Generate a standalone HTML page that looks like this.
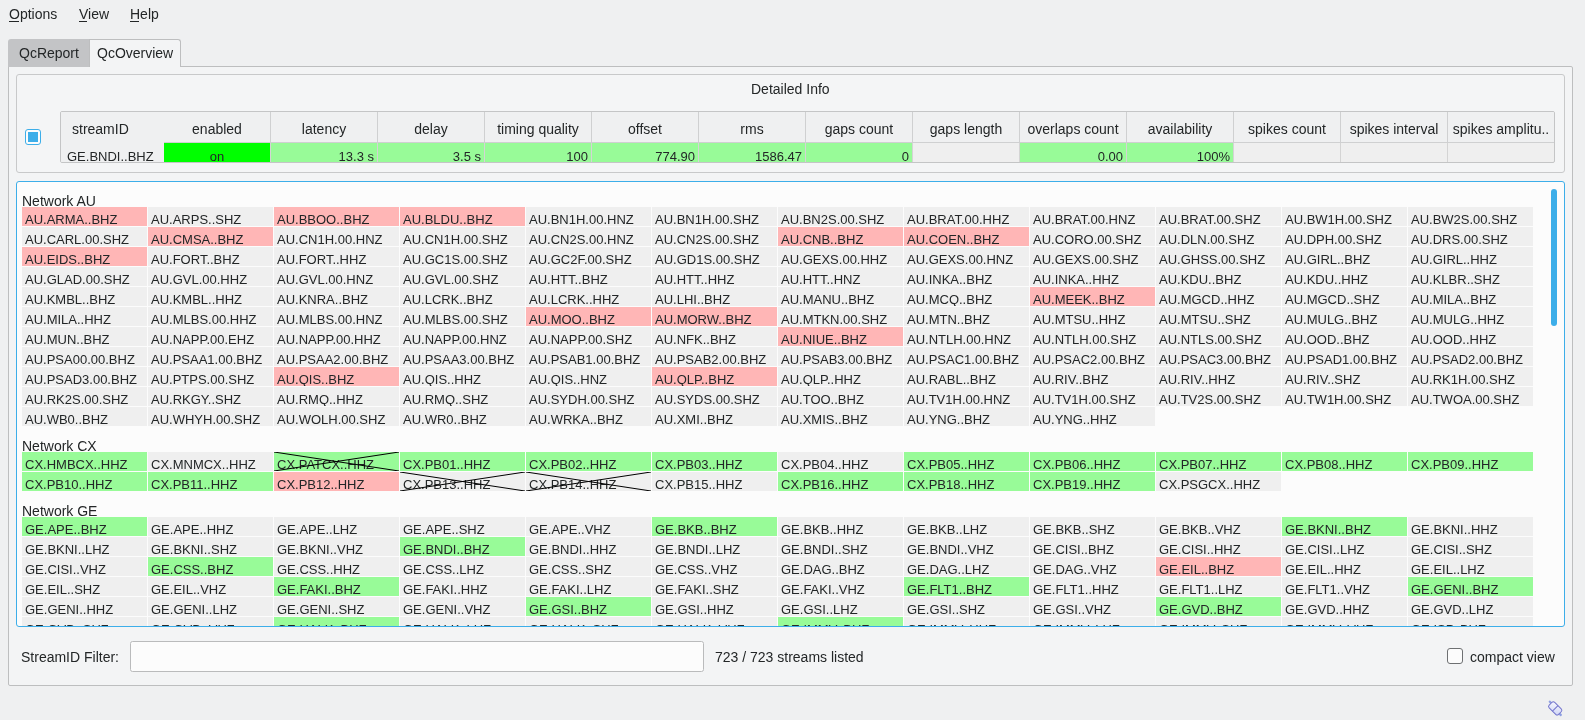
<!DOCTYPE html>
<html><head><meta charset="utf-8">
<style>
*{box-sizing:border-box}
html,body{margin:0;padding:0}
body{width:1585px;height:720px;overflow:hidden;background:#eff0f1;font-family:"Liberation Sans",sans-serif;font-size:14px;color:#232627;position:relative}
.a{position:absolute;white-space:nowrap;line-height:16px}
.ul{position:absolute;height:1px;background:#232627}
#tabr{position:absolute;left:8px;top:39px;width:81px;height:28px;background:#c3c4c6;border-radius:3px 0 0 0}
#tabo{position:absolute;left:89px;top:39px;width:92px;height:28px;background:#f3f4f5;border:1px solid #bdbebf;border-bottom:none;border-radius:0 3px 0 0;z-index:2}
#pane{position:absolute;left:8px;top:66px;width:1565px;height:620px;background:#f3f4f5;border:1px solid #bdbebf;border-radius:0 2px 2px 2px}
#grp{position:absolute;left:16px;top:74px;width:1549px;height:99px;border:1px solid #c8c9ca;border-radius:3px;background:#f4f5f6}
#chk{position:absolute;left:25px;top:129px;width:16px;height:16px;border:1.5px solid #3daee9;border-radius:3px;background:#fcfcfc}
#chk i{position:absolute;left:1.5px;top:1.5px;width:10px;height:10px;background:#3daee9}
#tbl{position:absolute;left:60px;top:111px;width:1495px;height:52px;border:1px solid #c4c5c6;border-radius:2px;overflow:hidden;background:#efefef}
.th{position:absolute;top:0;height:31px;background:#eff0f1;border-right:1px solid #cfd0d1;border-bottom:1px solid #cfd0d1;text-align:center;line-height:16px;padding-top:9px;font-size:14px;color:#232627}
.th.nb{border-right:none;border-bottom:none;height:32px}
.td{position:absolute;top:31px;height:19px;border-right:1px solid #d4d4d4;line-height:16px;padding-top:6px;font-size:13px;color:#232627;padding-left:6px;padding-right:3px;white-space:nowrap;overflow:hidden}
.td.g{background:#98fb98}
.td.on{background:#00ff00}
.td.on span{position:relative;top:1px}
.td.r{text-align:right}
.td.c{text-align:center}
.td.n{border-right:none;background:#eff0f1}
#vp{position:absolute;left:16px;top:181px;width:1549px;height:446px;border:1px solid #3daee9;border-radius:3px;background:#fcfcfc;overflow:hidden}
.nl{position:absolute;left:5px;height:25px;line-height:16px;padding-top:11px;font-size:14px;white-space:nowrap;color:#232627}
.c{position:absolute;width:125px;height:19px;background:#efefef;font-size:13px;line-height:19px;padding-left:3px;padding-top:3px;white-space:nowrap;overflow:hidden;color:#232627}
.c.r{background:#ffb6b6}
.c.g{background:#98fb98}
.xx{position:absolute;left:0;top:0}
#sb{position:absolute;left:1534px;top:7px;width:6px;height:137px;border-radius:3px;background:#3daee9}
#inp{position:absolute;left:130px;top:641px;width:574px;height:31px;border:1px solid #babbbc;border-radius:2.5px;background:#fcfcfc}
#chk2{position:absolute;left:1447px;top:648px;width:16px;height:16px;border:1.5px solid #6e7072;border-radius:3px;background:#fcfcfc}
#root{position:absolute;left:0;top:0;width:1585px;height:720px;will-change:transform}
</style></head><body><div id="root">
<div class="a" style="left:9px;top:6px">Options</div><div class="ul" style="left:9px;top:21px;width:10px"></div>
<div class="a" style="left:79px;top:6px">View</div><div class="ul" style="left:79px;top:21px;width:8px"></div>
<div class="a" style="left:130px;top:6px">Help</div><div class="ul" style="left:130px;top:21px;width:9px"></div>

<div id="pane"></div>
<div id="tabr"></div>
<div id="tabo"></div>
<div class="a" style="left:19px;top:45px;z-index:3">QcReport</div>
<div class="a" style="left:97px;top:45px;z-index:3">QcOverview</div>

<div id="grp"></div>
<div class="a" style="left:751px;top:81px">Detailed Info</div>
<div id="chk"><i></i></div>
<div id="tbl">
<div class="th nb" style="left:0px;width:103px"><span style="position:absolute;left:11px">streamID</span></div>
<div class="th" style="left:103px;width:107px">enabled</div>
<div class="th" style="left:210px;width:107px">latency</div>
<div class="th" style="left:317px;width:107px">delay</div>
<div class="th" style="left:424px;width:107px">timing quality</div>
<div class="th" style="left:531px;width:107px">offset</div>
<div class="th" style="left:638px;width:107px">rms</div>
<div class="th" style="left:745px;width:107px">gaps count</div>
<div class="th" style="left:852px;width:107px">gaps length</div>
<div class="th" style="left:959px;width:107px">overlaps count</div>
<div class="th" style="left:1066px;width:107px">availability</div>
<div class="th" style="left:1173px;width:107px">spikes count</div>
<div class="th" style="left:1280px;width:107px">spikes interval</div>
<div class="th" style="left:1387px;width:107px">spikes amplitu..</div>
<div class="td n l" style="left:0px;width:103px">GE.BNDI..BHZ</div>
<div class="td on c" style="left:103px;width:107px"><span>on</span></div>
<div class="td g r" style="left:210px;width:107px">13.3 s</div>
<div class="td g r" style="left:317px;width:107px">3.5 s</div>
<div class="td g r" style="left:424px;width:107px">100</div>
<div class="td g r" style="left:531px;width:107px">774.90</div>
<div class="td g r" style="left:638px;width:107px">1586.47</div>
<div class="td g r" style="left:745px;width:107px">0</div>
<div class="td e r" style="left:852px;width:107px"></div>
<div class="td g r" style="left:959px;width:107px">0.00</div>
<div class="td g r" style="left:1066px;width:107px">100%</div>
<div class="td e r" style="left:1173px;width:107px"></div>
<div class="td e r" style="left:1280px;width:107px"></div>
<div class="td e r" style="left:1387px;width:107px"></div>
</div>

<div id="vp">
<div class="nl" style="top:0px">Network AU</div>
<div class="nl" style="top:245px">Network CX</div>
<div class="nl" style="top:310px">Network GE</div>
<div class="c r" style="left:5px;top:25px">AU.ARMA..BHZ</div>
<div class="c" style="left:131px;top:25px">AU.ARPS..SHZ</div>
<div class="c r" style="left:257px;top:25px">AU.BBOO..BHZ</div>
<div class="c r" style="left:383px;top:25px">AU.BLDU..BHZ</div>
<div class="c" style="left:509px;top:25px">AU.BN1H.00.HNZ</div>
<div class="c" style="left:635px;top:25px">AU.BN1H.00.SHZ</div>
<div class="c" style="left:761px;top:25px">AU.BN2S.00.SHZ</div>
<div class="c" style="left:887px;top:25px">AU.BRAT.00.HHZ</div>
<div class="c" style="left:1013px;top:25px">AU.BRAT.00.HNZ</div>
<div class="c" style="left:1139px;top:25px">AU.BRAT.00.SHZ</div>
<div class="c" style="left:1265px;top:25px">AU.BW1H.00.SHZ</div>
<div class="c" style="left:1391px;top:25px">AU.BW2S.00.SHZ</div>
<div class="c" style="left:5px;top:45px">AU.CARL.00.SHZ</div>
<div class="c r" style="left:131px;top:45px">AU.CMSA..BHZ</div>
<div class="c" style="left:257px;top:45px">AU.CN1H.00.HNZ</div>
<div class="c" style="left:383px;top:45px">AU.CN1H.00.SHZ</div>
<div class="c" style="left:509px;top:45px">AU.CN2S.00.HNZ</div>
<div class="c" style="left:635px;top:45px">AU.CN2S.00.SHZ</div>
<div class="c r" style="left:761px;top:45px">AU.CNB..BHZ</div>
<div class="c r" style="left:887px;top:45px">AU.COEN..BHZ</div>
<div class="c" style="left:1013px;top:45px">AU.CORO.00.SHZ</div>
<div class="c" style="left:1139px;top:45px">AU.DLN.00.SHZ</div>
<div class="c" style="left:1265px;top:45px">AU.DPH.00.SHZ</div>
<div class="c" style="left:1391px;top:45px">AU.DRS.00.SHZ</div>
<div class="c r" style="left:5px;top:65px">AU.EIDS..BHZ</div>
<div class="c" style="left:131px;top:65px">AU.FORT..BHZ</div>
<div class="c" style="left:257px;top:65px">AU.FORT..HHZ</div>
<div class="c" style="left:383px;top:65px">AU.GC1S.00.SHZ</div>
<div class="c" style="left:509px;top:65px">AU.GC2F.00.SHZ</div>
<div class="c" style="left:635px;top:65px">AU.GD1S.00.SHZ</div>
<div class="c" style="left:761px;top:65px">AU.GEXS.00.HHZ</div>
<div class="c" style="left:887px;top:65px">AU.GEXS.00.HNZ</div>
<div class="c" style="left:1013px;top:65px">AU.GEXS.00.SHZ</div>
<div class="c" style="left:1139px;top:65px">AU.GHSS.00.SHZ</div>
<div class="c" style="left:1265px;top:65px">AU.GIRL..BHZ</div>
<div class="c" style="left:1391px;top:65px">AU.GIRL..HHZ</div>
<div class="c" style="left:5px;top:85px">AU.GLAD.00.SHZ</div>
<div class="c" style="left:131px;top:85px">AU.GVL.00.HHZ</div>
<div class="c" style="left:257px;top:85px">AU.GVL.00.HNZ</div>
<div class="c" style="left:383px;top:85px">AU.GVL.00.SHZ</div>
<div class="c" style="left:509px;top:85px">AU.HTT..BHZ</div>
<div class="c" style="left:635px;top:85px">AU.HTT..HHZ</div>
<div class="c" style="left:761px;top:85px">AU.HTT..HNZ</div>
<div class="c" style="left:887px;top:85px">AU.INKA..BHZ</div>
<div class="c" style="left:1013px;top:85px">AU.INKA..HHZ</div>
<div class="c" style="left:1139px;top:85px">AU.KDU..BHZ</div>
<div class="c" style="left:1265px;top:85px">AU.KDU..HHZ</div>
<div class="c" style="left:1391px;top:85px">AU.KLBR..SHZ</div>
<div class="c" style="left:5px;top:105px">AU.KMBL..BHZ</div>
<div class="c" style="left:131px;top:105px">AU.KMBL..HHZ</div>
<div class="c" style="left:257px;top:105px">AU.KNRA..BHZ</div>
<div class="c" style="left:383px;top:105px">AU.LCRK..BHZ</div>
<div class="c" style="left:509px;top:105px">AU.LCRK..HHZ</div>
<div class="c" style="left:635px;top:105px">AU.LHI..BHZ</div>
<div class="c" style="left:761px;top:105px">AU.MANU..BHZ</div>
<div class="c" style="left:887px;top:105px">AU.MCQ..BHZ</div>
<div class="c r" style="left:1013px;top:105px">AU.MEEK..BHZ</div>
<div class="c" style="left:1139px;top:105px">AU.MGCD..HHZ</div>
<div class="c" style="left:1265px;top:105px">AU.MGCD..SHZ</div>
<div class="c" style="left:1391px;top:105px">AU.MILA..BHZ</div>
<div class="c" style="left:5px;top:125px">AU.MILA..HHZ</div>
<div class="c" style="left:131px;top:125px">AU.MLBS.00.HHZ</div>
<div class="c" style="left:257px;top:125px">AU.MLBS.00.HNZ</div>
<div class="c" style="left:383px;top:125px">AU.MLBS.00.SHZ</div>
<div class="c r" style="left:509px;top:125px">AU.MOO..BHZ</div>
<div class="c r" style="left:635px;top:125px">AU.MORW..BHZ</div>
<div class="c" style="left:761px;top:125px">AU.MTKN.00.SHZ</div>
<div class="c" style="left:887px;top:125px">AU.MTN..BHZ</div>
<div class="c" style="left:1013px;top:125px">AU.MTSU..HHZ</div>
<div class="c" style="left:1139px;top:125px">AU.MTSU..SHZ</div>
<div class="c" style="left:1265px;top:125px">AU.MULG..BHZ</div>
<div class="c" style="left:1391px;top:125px">AU.MULG..HHZ</div>
<div class="c" style="left:5px;top:145px">AU.MUN..BHZ</div>
<div class="c" style="left:131px;top:145px">AU.NAPP.00.EHZ</div>
<div class="c" style="left:257px;top:145px">AU.NAPP.00.HHZ</div>
<div class="c" style="left:383px;top:145px">AU.NAPP.00.HNZ</div>
<div class="c" style="left:509px;top:145px">AU.NAPP.00.SHZ</div>
<div class="c" style="left:635px;top:145px">AU.NFK..BHZ</div>
<div class="c r" style="left:761px;top:145px">AU.NIUE..BHZ</div>
<div class="c" style="left:887px;top:145px">AU.NTLH.00.HNZ</div>
<div class="c" style="left:1013px;top:145px">AU.NTLH.00.SHZ</div>
<div class="c" style="left:1139px;top:145px">AU.NTLS.00.SHZ</div>
<div class="c" style="left:1265px;top:145px">AU.OOD..BHZ</div>
<div class="c" style="left:1391px;top:145px">AU.OOD..HHZ</div>
<div class="c" style="left:5px;top:165px">AU.PSA00.00.BHZ</div>
<div class="c" style="left:131px;top:165px">AU.PSAA1.00.BHZ</div>
<div class="c" style="left:257px;top:165px">AU.PSAA2.00.BHZ</div>
<div class="c" style="left:383px;top:165px">AU.PSAA3.00.BHZ</div>
<div class="c" style="left:509px;top:165px">AU.PSAB1.00.BHZ</div>
<div class="c" style="left:635px;top:165px">AU.PSAB2.00.BHZ</div>
<div class="c" style="left:761px;top:165px">AU.PSAB3.00.BHZ</div>
<div class="c" style="left:887px;top:165px">AU.PSAC1.00.BHZ</div>
<div class="c" style="left:1013px;top:165px">AU.PSAC2.00.BHZ</div>
<div class="c" style="left:1139px;top:165px">AU.PSAC3.00.BHZ</div>
<div class="c" style="left:1265px;top:165px">AU.PSAD1.00.BHZ</div>
<div class="c" style="left:1391px;top:165px">AU.PSAD2.00.BHZ</div>
<div class="c" style="left:5px;top:185px">AU.PSAD3.00.BHZ</div>
<div class="c" style="left:131px;top:185px">AU.PTPS.00.SHZ</div>
<div class="c r" style="left:257px;top:185px">AU.QIS..BHZ</div>
<div class="c" style="left:383px;top:185px">AU.QIS..HHZ</div>
<div class="c" style="left:509px;top:185px">AU.QIS..HNZ</div>
<div class="c r" style="left:635px;top:185px">AU.QLP..BHZ</div>
<div class="c" style="left:761px;top:185px">AU.QLP..HHZ</div>
<div class="c" style="left:887px;top:185px">AU.RABL..BHZ</div>
<div class="c" style="left:1013px;top:185px">AU.RIV..BHZ</div>
<div class="c" style="left:1139px;top:185px">AU.RIV..HHZ</div>
<div class="c" style="left:1265px;top:185px">AU.RIV..SHZ</div>
<div class="c" style="left:1391px;top:185px">AU.RK1H.00.SHZ</div>
<div class="c" style="left:5px;top:205px">AU.RK2S.00.SHZ</div>
<div class="c" style="left:131px;top:205px">AU.RKGY..SHZ</div>
<div class="c" style="left:257px;top:205px">AU.RMQ..HHZ</div>
<div class="c" style="left:383px;top:205px">AU.RMQ..SHZ</div>
<div class="c" style="left:509px;top:205px">AU.SYDH.00.SHZ</div>
<div class="c" style="left:635px;top:205px">AU.SYDS.00.SHZ</div>
<div class="c" style="left:761px;top:205px">AU.TOO..BHZ</div>
<div class="c" style="left:887px;top:205px">AU.TV1H.00.HNZ</div>
<div class="c" style="left:1013px;top:205px">AU.TV1H.00.SHZ</div>
<div class="c" style="left:1139px;top:205px">AU.TV2S.00.SHZ</div>
<div class="c" style="left:1265px;top:205px">AU.TW1H.00.SHZ</div>
<div class="c" style="left:1391px;top:205px">AU.TWOA.00.SHZ</div>
<div class="c" style="left:5px;top:225px">AU.WB0..BHZ</div>
<div class="c" style="left:131px;top:225px">AU.WHYH.00.SHZ</div>
<div class="c" style="left:257px;top:225px">AU.WOLH.00.SHZ</div>
<div class="c" style="left:383px;top:225px">AU.WR0..BHZ</div>
<div class="c" style="left:509px;top:225px">AU.WRKA..BHZ</div>
<div class="c" style="left:635px;top:225px">AU.XMI..BHZ</div>
<div class="c" style="left:761px;top:225px">AU.XMIS..BHZ</div>
<div class="c" style="left:887px;top:225px">AU.YNG..BHZ</div>
<div class="c" style="left:1013px;top:225px">AU.YNG..HHZ</div>
<div class="c g" style="left:5px;top:270px">CX.HMBCX..HHZ</div>
<div class="c" style="left:131px;top:270px">CX.MNMCX..HHZ</div>
<div class="c g" style="left:257px;top:270px">CX.PATCX..HHZ<svg class="xx" width="125" height="19"><path d="M0 0L125 19M0 19L125 0" stroke="#000" stroke-width="1"/></svg></div>
<div class="c g" style="left:383px;top:270px">CX.PB01..HHZ</div>
<div class="c g" style="left:509px;top:270px">CX.PB02..HHZ</div>
<div class="c g" style="left:635px;top:270px">CX.PB03..HHZ</div>
<div class="c" style="left:761px;top:270px">CX.PB04..HHZ</div>
<div class="c g" style="left:887px;top:270px">CX.PB05..HHZ</div>
<div class="c g" style="left:1013px;top:270px">CX.PB06..HHZ</div>
<div class="c g" style="left:1139px;top:270px">CX.PB07..HHZ</div>
<div class="c g" style="left:1265px;top:270px">CX.PB08..HHZ</div>
<div class="c g" style="left:1391px;top:270px">CX.PB09..HHZ</div>
<div class="c g" style="left:5px;top:290px">CX.PB10..HHZ</div>
<div class="c g" style="left:131px;top:290px">CX.PB11..HHZ</div>
<div class="c r" style="left:257px;top:290px">CX.PB12..HHZ</div>
<div class="c" style="left:383px;top:290px">CX.PB13..HHZ<svg class="xx" width="125" height="19"><path d="M0 0L125 19M0 19L125 0" stroke="#000" stroke-width="1"/></svg></div>
<div class="c" style="left:509px;top:290px">CX.PB14..HHZ<svg class="xx" width="125" height="19"><path d="M0 0L125 19M0 19L125 0" stroke="#000" stroke-width="1"/></svg></div>
<div class="c" style="left:635px;top:290px">CX.PB15..HHZ</div>
<div class="c g" style="left:761px;top:290px">CX.PB16..HHZ</div>
<div class="c g" style="left:887px;top:290px">CX.PB18..HHZ</div>
<div class="c g" style="left:1013px;top:290px">CX.PB19..HHZ</div>
<div class="c" style="left:1139px;top:290px">CX.PSGCX..HHZ</div>
<div class="c g" style="left:5px;top:335px">GE.APE..BHZ</div>
<div class="c" style="left:131px;top:335px">GE.APE..HHZ</div>
<div class="c" style="left:257px;top:335px">GE.APE..LHZ</div>
<div class="c" style="left:383px;top:335px">GE.APE..SHZ</div>
<div class="c" style="left:509px;top:335px">GE.APE..VHZ</div>
<div class="c g" style="left:635px;top:335px">GE.BKB..BHZ</div>
<div class="c" style="left:761px;top:335px">GE.BKB..HHZ</div>
<div class="c" style="left:887px;top:335px">GE.BKB..LHZ</div>
<div class="c" style="left:1013px;top:335px">GE.BKB..SHZ</div>
<div class="c" style="left:1139px;top:335px">GE.BKB..VHZ</div>
<div class="c g" style="left:1265px;top:335px">GE.BKNI..BHZ</div>
<div class="c" style="left:1391px;top:335px">GE.BKNI..HHZ</div>
<div class="c" style="left:5px;top:355px">GE.BKNI..LHZ</div>
<div class="c" style="left:131px;top:355px">GE.BKNI..SHZ</div>
<div class="c" style="left:257px;top:355px">GE.BKNI..VHZ</div>
<div class="c g" style="left:383px;top:355px">GE.BNDI..BHZ</div>
<div class="c" style="left:509px;top:355px">GE.BNDI..HHZ</div>
<div class="c" style="left:635px;top:355px">GE.BNDI..LHZ</div>
<div class="c" style="left:761px;top:355px">GE.BNDI..SHZ</div>
<div class="c" style="left:887px;top:355px">GE.BNDI..VHZ</div>
<div class="c" style="left:1013px;top:355px">GE.CISI..BHZ</div>
<div class="c" style="left:1139px;top:355px">GE.CISI..HHZ</div>
<div class="c" style="left:1265px;top:355px">GE.CISI..LHZ</div>
<div class="c" style="left:1391px;top:355px">GE.CISI..SHZ</div>
<div class="c" style="left:5px;top:375px">GE.CISI..VHZ</div>
<div class="c g" style="left:131px;top:375px">GE.CSS..BHZ</div>
<div class="c" style="left:257px;top:375px">GE.CSS..HHZ</div>
<div class="c" style="left:383px;top:375px">GE.CSS..LHZ</div>
<div class="c" style="left:509px;top:375px">GE.CSS..SHZ</div>
<div class="c" style="left:635px;top:375px">GE.CSS..VHZ</div>
<div class="c" style="left:761px;top:375px">GE.DAG..BHZ</div>
<div class="c" style="left:887px;top:375px">GE.DAG..LHZ</div>
<div class="c" style="left:1013px;top:375px">GE.DAG..VHZ</div>
<div class="c r" style="left:1139px;top:375px">GE.EIL..BHZ</div>
<div class="c" style="left:1265px;top:375px">GE.EIL..HHZ</div>
<div class="c" style="left:1391px;top:375px">GE.EIL..LHZ</div>
<div class="c" style="left:5px;top:395px">GE.EIL..SHZ</div>
<div class="c" style="left:131px;top:395px">GE.EIL..VHZ</div>
<div class="c g" style="left:257px;top:395px">GE.FAKI..BHZ</div>
<div class="c" style="left:383px;top:395px">GE.FAKI..HHZ</div>
<div class="c" style="left:509px;top:395px">GE.FAKI..LHZ</div>
<div class="c" style="left:635px;top:395px">GE.FAKI..SHZ</div>
<div class="c" style="left:761px;top:395px">GE.FAKI..VHZ</div>
<div class="c g" style="left:887px;top:395px">GE.FLT1..BHZ</div>
<div class="c" style="left:1013px;top:395px">GE.FLT1..HHZ</div>
<div class="c" style="left:1139px;top:395px">GE.FLT1..LHZ</div>
<div class="c" style="left:1265px;top:395px">GE.FLT1..VHZ</div>
<div class="c g" style="left:1391px;top:395px">GE.GENI..BHZ</div>
<div class="c" style="left:5px;top:415px">GE.GENI..HHZ</div>
<div class="c" style="left:131px;top:415px">GE.GENI..LHZ</div>
<div class="c" style="left:257px;top:415px">GE.GENI..SHZ</div>
<div class="c" style="left:383px;top:415px">GE.GENI..VHZ</div>
<div class="c g" style="left:509px;top:415px">GE.GSI..BHZ</div>
<div class="c" style="left:635px;top:415px">GE.GSI..HHZ</div>
<div class="c" style="left:761px;top:415px">GE.GSI..LHZ</div>
<div class="c" style="left:887px;top:415px">GE.GSI..SHZ</div>
<div class="c" style="left:1013px;top:415px">GE.GSI..VHZ</div>
<div class="c g" style="left:1139px;top:415px">GE.GVD..BHZ</div>
<div class="c" style="left:1265px;top:415px">GE.GVD..HHZ</div>
<div class="c" style="left:1391px;top:415px">GE.GVD..LHZ</div>
<div class="c" style="left:5px;top:435px">GE.GVD..SHZ</div>
<div class="c" style="left:131px;top:435px">GE.GVD..VHZ</div>
<div class="c g" style="left:257px;top:435px">GE.HALK..BHZ</div>
<div class="c" style="left:383px;top:435px">GE.HALK..LHZ</div>
<div class="c" style="left:509px;top:435px">GE.HALK..SHZ</div>
<div class="c" style="left:635px;top:435px">GE.HALK..VHZ</div>
<div class="c g" style="left:761px;top:435px">GE.IMMV..BHZ</div>
<div class="c" style="left:887px;top:435px">GE.IMMV..HHZ</div>
<div class="c" style="left:1013px;top:435px">GE.IMMV..LHZ</div>
<div class="c" style="left:1139px;top:435px">GE.IMMV..SHZ</div>
<div class="c" style="left:1265px;top:435px">GE.IMMV..VHZ</div>
<div class="c" style="left:1391px;top:435px">GE.ISP..BHZ</div>
<div id="sb"></div>
</div>

<div class="a" style="left:21px;top:649px">StreamID Filter:</div>
<div id="inp"></div>
<div class="a" style="left:715px;top:649px">723 / 723 streams listed</div>
<div id="chk2"></div>
<div class="a" style="left:1470px;top:649px">compact view</div>
<svg width="20" height="20" style="position:absolute;left:1545px;top:698px" viewBox="0 0 20 20">
<defs><linearGradient id="ig" x1="0" y1="0" x2="1" y2="1"><stop offset="0" stop-color="#f7f8fe"/><stop offset="1" stop-color="#cfd5f6"/></linearGradient></defs>
<g transform="translate(10.2 10.4) rotate(45)">
<rect x="-9.6" y="-2" width="3" height="2.2" rx="0.8" fill="#8fa0e2"/>
<rect x="6.6" y="-0.4" width="3" height="2.2" rx="0.8" fill="#8fa0e2"/>
<rect x="-6.6" y="-3.9" width="13.2" height="7.8" rx="2" fill="url(#ig)" stroke="#7274cc" stroke-width="0.95"/>
<line x1="0" y1="-3.9" x2="0" y2="3.9" stroke="#7274cc" stroke-width="0.95"/>
</g></svg>
</div></body></html>
